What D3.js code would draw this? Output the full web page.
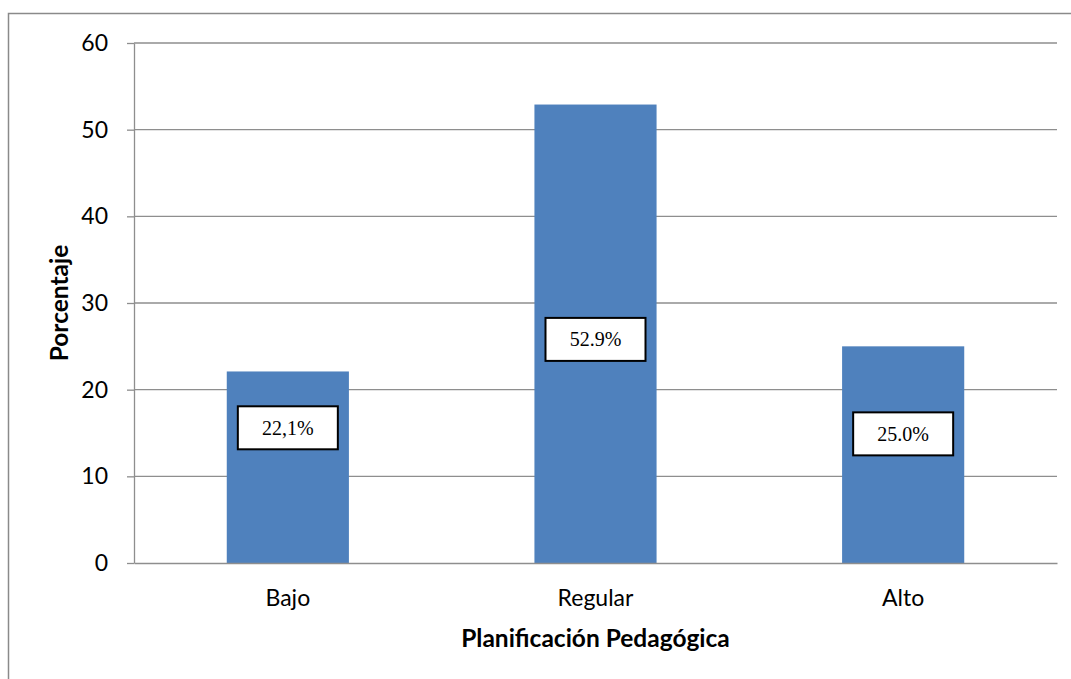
<!DOCTYPE html>
<html>
<head>
<meta charset="utf-8">
<script src="https://cdn.jsdelivr.net/npm/d3@7"></script>
<style>
    body { margin: 0; background: #fff; }
    svg { display: block; }
</style>
</head>
<body>
<svg id="chart" width="1071" height="679"></svg>
<script>
// chart values
var categories = ["Bajo", "Regular", "Alto"];
var values = [22.1, 52.9, 25.0];
var valueLabels = ["22,1%", "52.9%", "25.0%"];
var yTicks = [0, 10, 20, 30, 40, 50, 60];

// where the boxed labels sit (in axis units), they were moved by hand in the original
var labelAt = [15.6, 25.8, 14.9];

var margin = { top: 43, right: 14, bottom: 116, left: 134 },
    width = 1071 - margin.left - margin.right,
    height = 679 - margin.top - margin.bottom;

var svg = d3.select("#chart");

// outer chart frame (runs off the page on the right and bottom)
svg.append("rect")
    .attr("x", 8.5)
    .attr("y", 13.5)
    .attr("width", 1100)
    .attr("height", 700)
    .attr("fill", "none")
    .attr("stroke", "#8a8a8a")
    .attr("stroke-width", 1.5);

var g = svg.append("g")
    .attr("transform", "translate(" + margin.left + "," + margin.top + ")");

var x = d3.scaleBand().domain(categories).range([0, width]).paddingInner(0.603).paddingOuter(0.3015);
var y = d3.scaleLinear().domain([0, 60]).range([height, 0]);

// gridlines
g.append("g")
    .selectAll("line")
    .data(yTicks.filter(function (d) { return d > 0; }))
    .enter().append("line")
    .attr("x1", 0)
    .attr("x2", width)
    .attr("y1", function (d) { return y(d); })
    .attr("y2", function (d) { return y(d); })
    .attr("stroke", "#8e8e8e")
    .attr("stroke-width", 1.3);

// bars
g.append("g")
    .selectAll("rect")
    .data(values)
    .enter().append("rect")
    .attr("x", function (d, i) { return x(categories[i]); })
    .attr("y", function (d) { return y(d); })
    .attr("width", x.bandwidth())
    .attr("height", function (d) { return height - y(d); })
    .attr("fill", "#4f81bd");

// y axis
var yAxis = g.append("g")
    .call(d3.axisLeft(y).tickValues(yTicks).tickSize(7).tickPadding(19).tickSizeOuter(0));
yAxis.select(".domain").attr("stroke", "#8e8e8e").attr("stroke-width", 1.3);
yAxis.selectAll(".tick line").attr("stroke", "#8e8e8e").attr("stroke-width", 1.3);
yAxis.selectAll(".tick text")
    .attr("font-family", "Lato, 'Open Sans', sans-serif")
    .attr("font-size", "23px")
    .attr("fill", "#000");

// x axis
var xAxis = g.append("g")
    .attr("transform", "translate(0," + height + ")")
    .call(d3.axisBottom(x).tickSize(0).tickPadding(27).tickSizeOuter(0));
xAxis.select(".domain").attr("stroke", "#8e8e8e").attr("stroke-width", 1.6);
xAxis.selectAll(".tick text")
    .attr("font-family", "Lato, 'Open Sans', sans-serif")
    .attr("font-size", "23px")
    .attr("fill", "#000");

// boxed value labels
var boxW = 100, boxH = 43;
var labels = g.append("g")
    .selectAll("g")
    .data(values)
    .enter().append("g")
    .attr("transform", function (d, i) {
        return "translate(" + (x(categories[i]) + x.bandwidth() / 2) + "," + y(labelAt[i]) + ")";
    });

labels.append("rect")
    .attr("x", -boxW / 2)
    .attr("y", -boxH / 2)
    .attr("width", boxW)
    .attr("height", boxH)
    .attr("fill", "#fff")
    .attr("stroke", "#000")
    .attr("stroke-width", 2);

labels.append("text")
    .attr("text-anchor", "middle")
    .attr("dy", "0.35em")
    .attr("font-family", "'Liberation Serif', 'Times New Roman', serif")
    .attr("font-size", "20px")
    .text(function (d, i) { return valueLabels[i]; });

// axis titles
g.append("text")
    .attr("x", width / 2)
    .attr("y", height + 84)
    .attr("text-anchor", "middle")
    .attr("font-family", "Lato, 'Open Sans', sans-serif")
    .attr("font-weight", "bold")
    .attr("font-size", "24.5px")
    .text("Planificación Pedagógica");

g.append("text")
    .attr("transform", "rotate(-90)")
    .attr("x", -height / 2)
    .attr("y", -66)
    .attr("text-anchor", "middle")
    .attr("font-family", "Lato, 'Open Sans', sans-serif")
    .attr("font-weight", "bold")
    .attr("font-size", "24.5px")
    .text("Porcentaje");
</script>
</body>
</html>
